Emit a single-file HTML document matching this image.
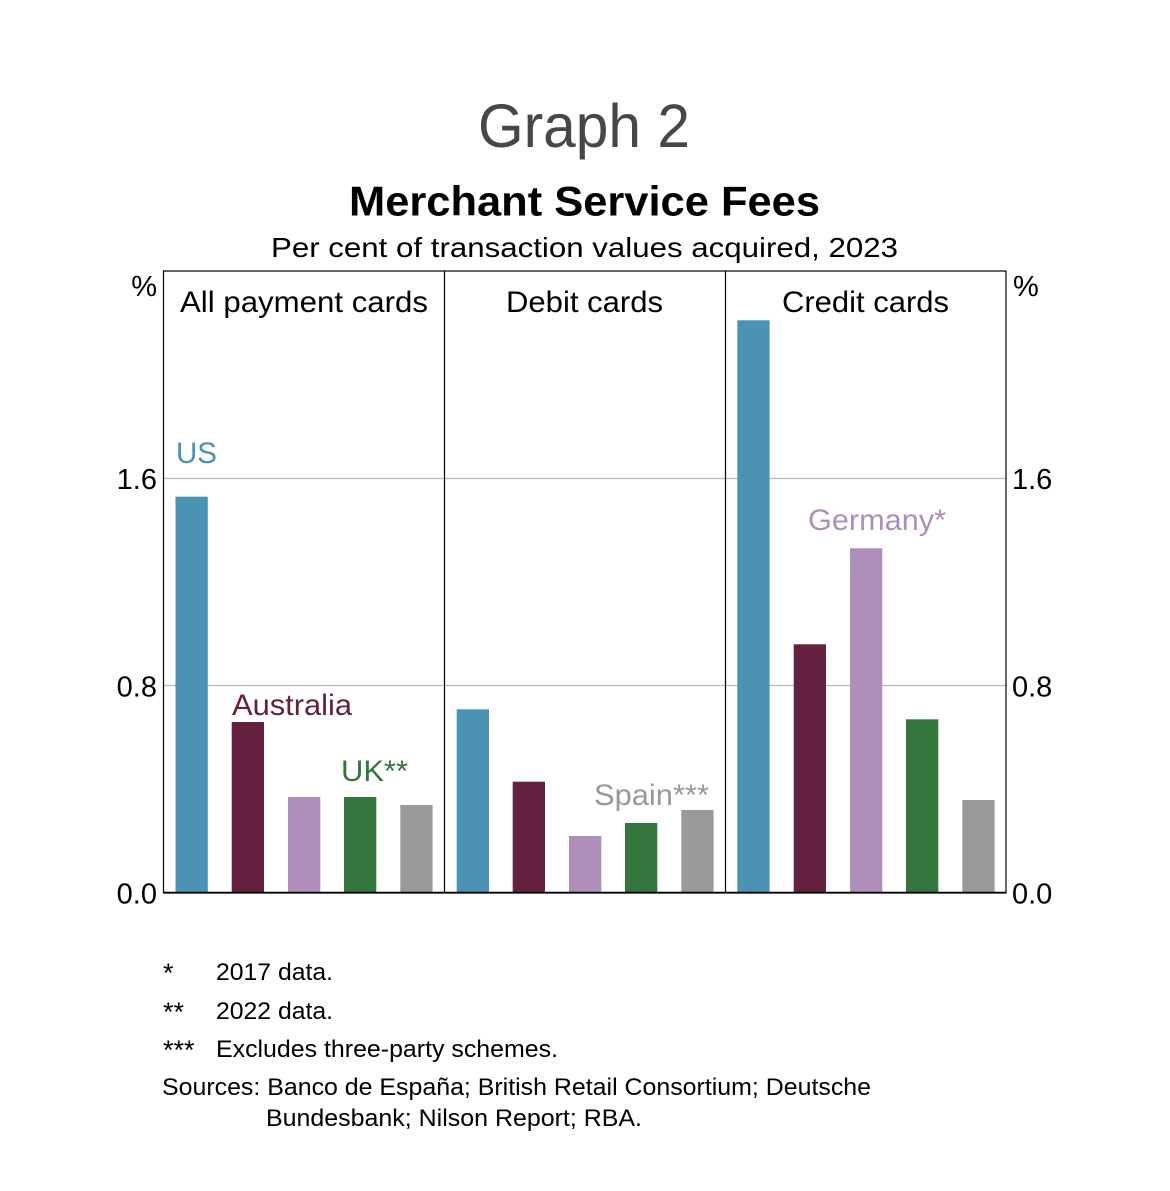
<!DOCTYPE html>
<html>
<head>
<meta charset="utf-8">
<style>
  html, body { margin: 0; padding: 0; background: #ffffff; }
  svg { display: block; }
  text { font-family: "Liberation Sans", Arial, sans-serif; }
</style>
</head>
<body>
<svg width="1170" height="1191" viewBox="0 0 1170 1191" xmlns="http://www.w3.org/2000/svg">
  <rect x="0" y="0" width="1170" height="1191" fill="#ffffff"/>

  <!-- Titles -->
  <text x="478" y="147" font-size="61" fill="#474747" textLength="212" lengthAdjust="spacingAndGlyphs">Graph 2</text>
  <text x="349" y="215.5" font-size="42" font-weight="bold" fill="#000" textLength="471" lengthAdjust="spacingAndGlyphs">Merchant Service Fees</text>
  <text x="271" y="257" font-size="28" fill="#000" textLength="627" lengthAdjust="spacingAndGlyphs">Per cent of transaction values acquired, 2023</text>

  <!-- Gridlines -->
  <line x1="163.5" y1="478.5" x2="1006" y2="478.5" stroke="#b9b9b9" stroke-width="1.2"/>
  <line x1="163.5" y1="685.5" x2="1006" y2="685.5" stroke="#b9b9b9" stroke-width="1.2"/>

  <!-- Bars: All payment cards -->
  <rect x="175.5" y="496.7" width="32.3" height="396" fill="#4b93b3"/>
  <rect x="231.7" y="722" width="32.3" height="170.7" fill="#63203f"/>
  <rect x="288" y="797" width="32.3" height="95.7" fill="#ad8fba"/>
  <rect x="344" y="797" width="32.3" height="95.7" fill="#33753d"/>
  <rect x="400.3" y="805" width="32.3" height="87.7" fill="#999999"/>

  <!-- Bars: Debit cards -->
  <rect x="456.7" y="709.3" width="32.3" height="183.4" fill="#4b93b3"/>
  <rect x="512.7" y="781.7" width="32.3" height="111" fill="#63203f"/>
  <rect x="569" y="836" width="32.3" height="56.7" fill="#ad8fba"/>
  <rect x="625" y="823" width="32.3" height="69.7" fill="#33753d"/>
  <rect x="681.3" y="810" width="32.3" height="82.7" fill="#999999"/>

  <!-- Bars: Credit cards -->
  <rect x="737.3" y="320.3" width="32.3" height="572.4" fill="#4b93b3"/>
  <rect x="793.7" y="644.3" width="32.3" height="248.4" fill="#63203f"/>
  <rect x="850" y="548.3" width="32.3" height="344.4" fill="#ad8fba"/>
  <rect x="906" y="719.3" width="32.3" height="173.4" fill="#33753d"/>
  <rect x="962.3" y="800" width="32.3" height="92.7" fill="#999999"/>

  <!-- Frame -->
  <rect x="163.5" y="271" width="842.5" height="621.7" fill="none" stroke="#000" stroke-width="1.2"/>
  <line x1="444.5" y1="271" x2="444.5" y2="893" stroke="#000" stroke-width="1.2"/>
  <line x1="725.5" y1="271" x2="725.5" y2="893" stroke="#000" stroke-width="1.2"/>
  <line x1="163" y1="892.7" x2="1006.5" y2="892.7" stroke="#000" stroke-width="1.8"/>

  <!-- Panel titles -->
  <text x="180" y="312" font-size="29.5" fill="#000" textLength="248" lengthAdjust="spacingAndGlyphs">All payment cards</text>
  <text x="506" y="312" font-size="29.5" fill="#000" textLength="157" lengthAdjust="spacingAndGlyphs">Debit cards</text>
  <text x="782" y="312" font-size="29.5" fill="#000" textLength="167" lengthAdjust="spacingAndGlyphs">Credit cards</text>

  <!-- Left axis labels -->
  <text x="157" y="296" font-size="29" fill="#000" text-anchor="end">%</text>
  <text x="157" y="489" font-size="29" fill="#000" text-anchor="end">1.6</text>
  <text x="157" y="696.5" font-size="29" fill="#000" text-anchor="end">0.8</text>
  <text x="157" y="903.5" font-size="29" fill="#000" text-anchor="end">0.0</text>

  <!-- Right axis labels -->
  <text x="1013" y="296" font-size="29" fill="#000">%</text>
  <text x="1012" y="489" font-size="29" fill="#000">1.6</text>
  <text x="1012" y="696.5" font-size="29" fill="#000">0.8</text>
  <text x="1012" y="903.5" font-size="29" fill="#000">0.0</text>

  <!-- Series labels -->
  <text x="176" y="463" font-size="29.5" fill="#4b93b3" textLength="41" lengthAdjust="spacingAndGlyphs">US</text>
  <text x="232" y="715" font-size="29.5" fill="#63203f" textLength="120" lengthAdjust="spacingAndGlyphs">Australia</text>
  <text x="341" y="781" font-size="29.5" fill="#33753d" textLength="67" lengthAdjust="spacingAndGlyphs">UK**</text>
  <text x="594" y="805" font-size="29.5" fill="#999999" textLength="115" lengthAdjust="spacingAndGlyphs">Spain***</text>
  <text x="808" y="530" font-size="29.5" fill="#ad8fba" textLength="138" lengthAdjust="spacingAndGlyphs">Germany*</text>

  <!-- Footnotes -->
  <text x="163" y="982" font-size="27" fill="#000">*</text>
  <text x="216" y="980" font-size="24" fill="#000" textLength="117" lengthAdjust="spacingAndGlyphs">2017 data.</text>
  <text x="163" y="1021" font-size="27" fill="#000">**</text>
  <text x="216" y="1019" font-size="24" fill="#000" textLength="117" lengthAdjust="spacingAndGlyphs">2022 data.</text>
  <text x="163" y="1059" font-size="27" fill="#000">***</text>
  <text x="216" y="1057" font-size="24" fill="#000" textLength="342" lengthAdjust="spacingAndGlyphs">Excludes three-party schemes.</text>
  <text x="162" y="1095" font-size="24" fill="#000" textLength="709" lengthAdjust="spacingAndGlyphs">Sources: Banco de España; British Retail Consortium; Deutsche</text>
  <text x="266" y="1126" font-size="24" fill="#000" textLength="376" lengthAdjust="spacingAndGlyphs">Bundesbank; Nilson Report; RBA.</text>
</svg>
</body>
</html>
